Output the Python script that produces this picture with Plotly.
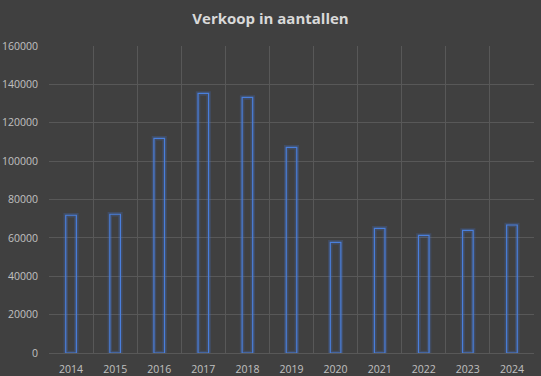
import plotly.graph_objects as go

years = ["2014", "2015", "2016", "2017", "2018", "2019", "2020", "2021", "2022", "2023", "2024"]
sales = [71800, 72300, 111900, 135300, 133200, 107200, 57700, 65000, 61300, 63900, 66700]
y_ticks = [0, 20000, 40000, 60000, 80000, 100000, 120000, 140000, 160000]

fig = go.Figure()
# glow layer
fig.add_trace(go.Bar(x=years, y=sales, width=0.24,
                     marker=dict(color="rgba(0,0,0,0)",
                                 line=dict(color="rgba(70,120,220,0.22)", width=4.5)),
                     hoverinfo="skip", showlegend=False))
# outline layer
fig.add_trace(go.Bar(x=years, y=sales, width=0.24,
                     marker=dict(color="rgba(0,0,0,0)",
                                 line=dict(color="#4a7fdc", width=1.2)),
                     showlegend=False))

fig.update_layout(
    width=541, height=376,
    barmode="overlay",
    paper_bgcolor="#404040", plot_bgcolor="#404040",
    margin=dict(l=49, r=7, t=46, b=23),
    title=dict(text="<b>Verkoop in aantallen</b>", x=0.5, xanchor="center",
               y=0.95, yanchor="middle",
               font=dict(family="Open Sans, Lato, sans-serif", size=15, color="#d9d9d9")),
    font=dict(family="Open Sans, Lato, sans-serif", size=10.5, color="#c0c0c0"),
    xaxis=dict(type="category", tickson="boundaries", showgrid=True,
               gridcolor="#585858", gridwidth=1, ticks="", showline=False,
               tickfont=dict(size=10.5, color="#c0c0c0"), ticklen=0,
               ticklabelstandoff=8, automargin=False),
    yaxis=dict(range=[0, 160000], tickvals=y_ticks, tickformat="d",
               showgrid=True, gridcolor="#585858", gridwidth=1,
               zeroline=True, zerolinecolor="#585858", zerolinewidth=1,
               tickfont=dict(size=10.5, color="#c0c0c0"), ticks="",
               ticklabelstandoff=10, automargin=False),
)
fig.write_html("out.html", config={"displayModeBar": False},
               post_script="document.body.style.margin='0';document.body.style.background='#404040';")
